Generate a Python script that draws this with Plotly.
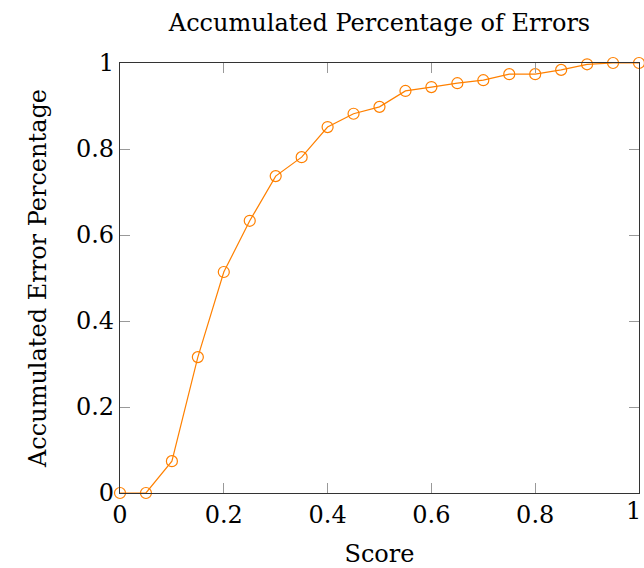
import plotly.graph_objects as go

scores = [0, 0.05, 0.1, 0.15, 0.2, 0.25, 0.3, 0.35, 0.4, 0.45, 0.5,
          0.55, 0.6, 0.65, 0.7, 0.75, 0.8, 0.85, 0.9, 0.95, 1.0]
acc_err = [0, 0, 0.074, 0.316, 0.514, 0.633, 0.737, 0.781, 0.851, 0.882, 0.898,
           0.935, 0.944, 0.953, 0.960, 0.974, 0.974, 0.984, 0.997, 1.0, 1.0]
tick_vals = [0, 0.2, 0.4, 0.6, 0.8, 1]
tick_text = ["0", "0.2", "0.4", "0.6", "0.8", "1"]

orange = "rgb(255,128,0)"
font_family = "DejaVu Serif"
fs = 24

fig = go.Figure()
fig.add_trace(go.Scatter(
    x=scores, y=acc_err, mode="lines+markers",
    line=dict(color=orange, width=1.2),
    marker=dict(symbol="circle-open", size=11, color=orange, line=dict(width=1.2, color=orange)),
    cliponaxis=False, showlegend=False,
))

axis_common = dict(
    range=[0, 1],
    ticks="inside", ticklen=10, tickwidth=1, tickcolor="#999999",
    showline=True, linecolor="#333333", linewidth=1.2, mirror="ticks",
    showgrid=False, zeroline=False,
    tickfont=dict(family=font_family, size=fs, color="black"),
)

fig.update_layout(
    width=644, height=568,
    margin=dict(l=120, r=5, t=63, b=75),
    plot_bgcolor="white", paper_bgcolor="white",
    title=dict(text="Accumulated Percentage of Errors", x=0.5, xanchor="center",
               xref="paper", y=0.975, yanchor="top",
               font=dict(family=font_family, size=fs, color="black")),
    xaxis=dict(**axis_common, tickmode="array", tickvals=tick_vals[:-1], ticktext=tick_text[:-1],
               title=dict(text="Score", standoff=18,
               font=dict(family=font_family, size=fs, color="black"))),
    yaxis=dict(**axis_common, tickmode="array", tickvals=tick_vals, ticktext=tick_text,
               title=dict(text="Accumulated Error Percentage", standoff=22,
               font=dict(family=font_family, size=fs, color="black"))),
)
# last x tick label sits at the paper edge, so it is drawn as an annotation kept inside the page
fig.add_annotation(x=tick_vals[-1], y=0, xref="x", yref="paper", text=tick_text[-1],
                   showarrow=False, yanchor="top", xanchor="right", xshift=4, yshift=-2,
                   font=dict(family=font_family, size=fs, color="black"))

fig.write_html("out.html")
